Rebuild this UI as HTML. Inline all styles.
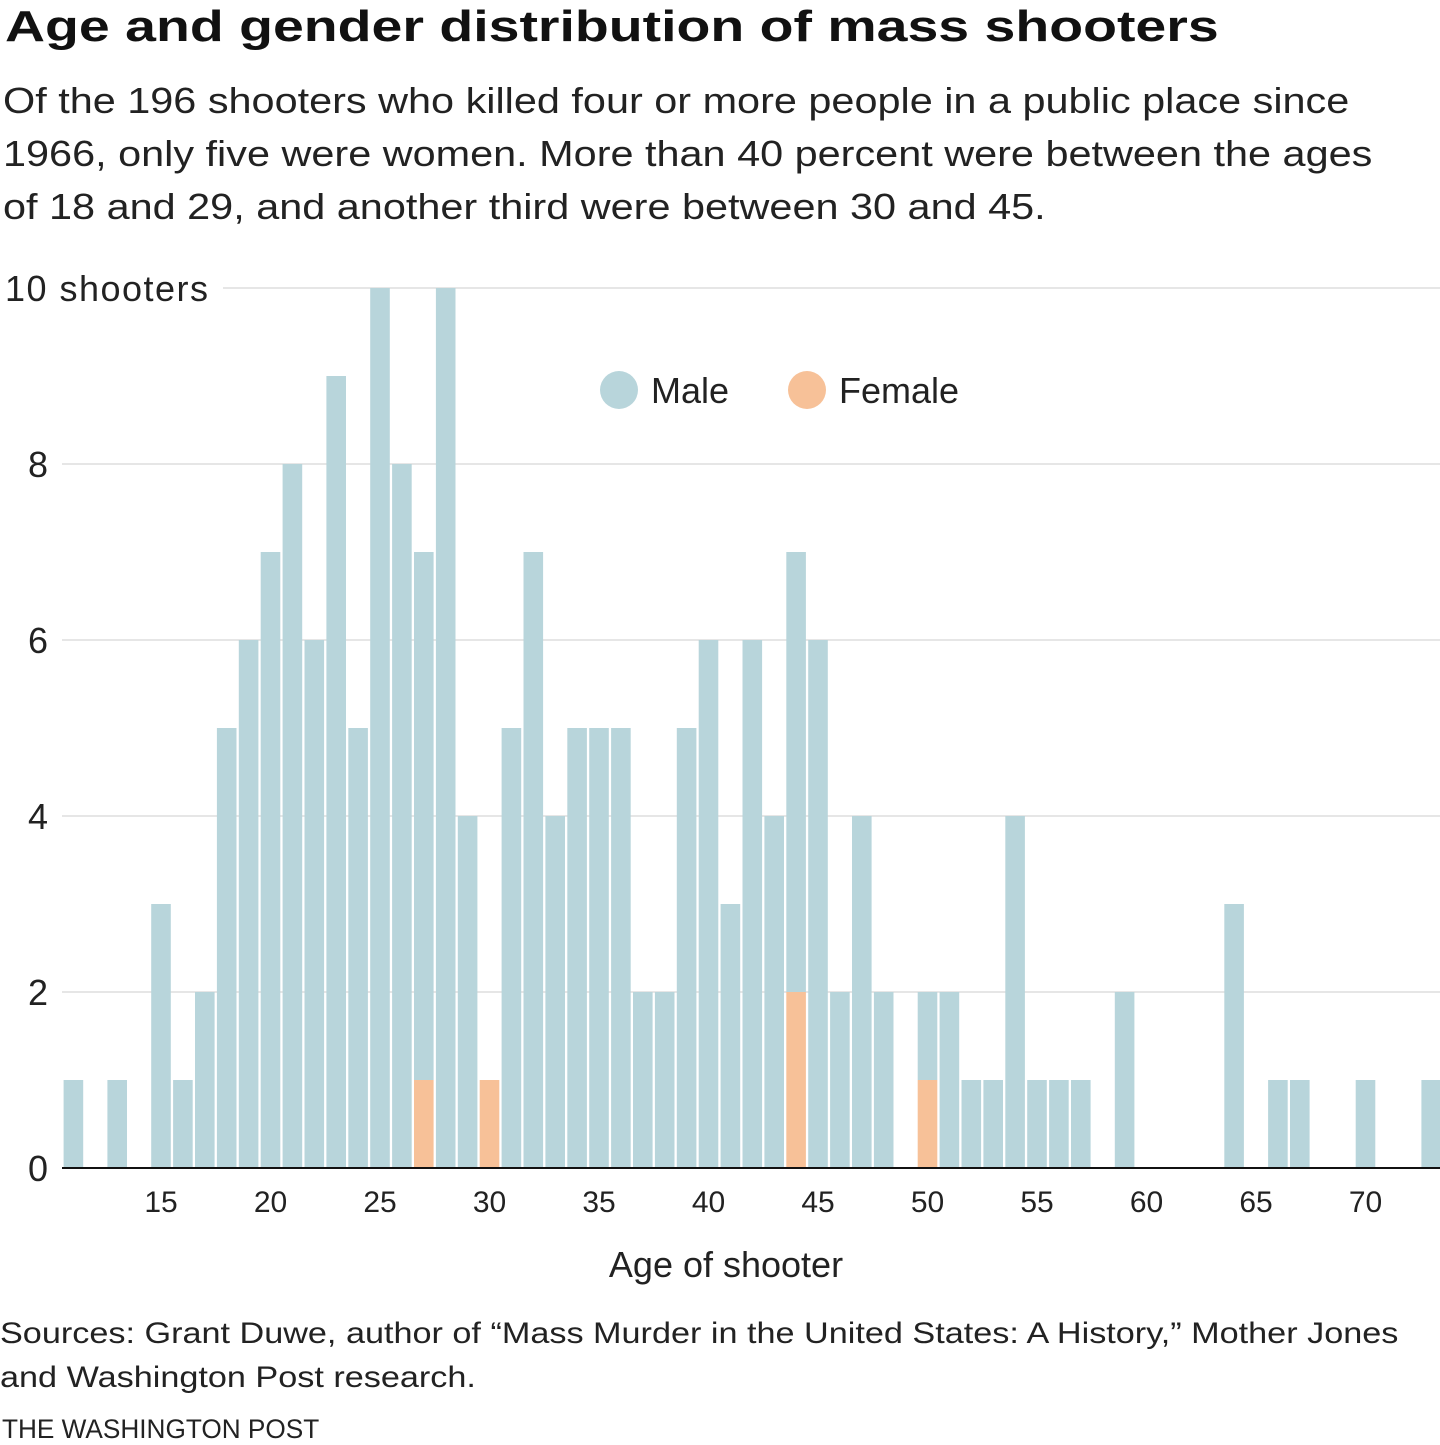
<!DOCTYPE html>
<html><head><meta charset="utf-8"><style>
body{margin:0;width:1440px;height:1445px;background:#fff;font-family:"Liberation Sans",sans-serif;overflow:hidden;position:relative}
.t{position:absolute;white-space:nowrap;color:#111;transform-origin:0 0}
</style></head><body>
<div class="t" style="left:5px;top:2px;font-size:44px;font-weight:bold;transform:scaleX(1.26)">Age and gender distribution of mass shooters</div>
<div class="t" style="left:3px;top:74px;font-size:36px;line-height:53px;color:#222;transform:scaleX(1.15)">Of the 196 shooters who killed four or more people in a public place since<br>1966, only five were women. More than 40 percent were between the ages<br>of 18 and 29, and another third were between 30 and 45.</div>
<svg id="chart" width="1440" height="1300" style="position:absolute;left:0;top:0"></svg>
<div class="t" style="left:0;top:1312px;font-size:30px;line-height:44px;color:#222;transform:scaleX(1.14)">Sources: Grant Duwe, author of “Mass Murder in the United States: A History,” Mother Jones<br>and Washington Post research.</div>
<div class="t" style="left:2px;top:1414px;font-size:27px;color:#222;transform:scaleX(0.97)">THE WASHINGTON POST</div>
<script>
const ages=[11,12,13,14,15,16,17,18,19,20,21,22,23,24,25,26,27,28,29,30,31,32,33,34,35,36,37,38,39,40,41,42,43,44,45,46,47,48,49,50,51,52,53,54,55,56,57,58,59,60,61,62,63,64,65,66,67,68,69,70,71,72,73];
const male=[1,0,1,0,3,1,2,5,6,7,8,6,9,5,10,8,6,10,4,0,5,7,4,5,5,5,2,2,5,6,3,6,4,5,6,2,4,2,0,1,2,1,1,4,1,1,1,0,2,0,0,0,0,3,0,1,1,0,0,1,0,0,1];
const female=[0,0,0,0,0,0,0,0,0,0,0,0,0,0,0,0,1,0,0,1,0,0,0,0,0,0,0,0,0,0,0,0,0,2,0,0,0,0,0,1,0,0,0,0,0,0,0,0,0,0,0,0,0,0,0,0,0,0,0,0,0,0,0];
const yTicks=[0,2,4,6,8,10];
const xTicks=[15,20,25,30,35,40,45,50,55,60,65,70];
const NS="http://www.w3.org/2000/svg",svg=document.getElementById('chart');
const x=a=>161+(a-15)*21.9, y=v=>1168-v*88;
function mk(t,attrs){const e=document.createElementNS(NS,t);for(const k in attrs)e.setAttribute(k,attrs[k]);svg.appendChild(e);return e;}
yTicks.forEach(v=>{
  if(v>0){const g=mk('line',{x1:v===10?223:62,x2:1440,y1:y(v),y2:y(v),stroke:'#ccc','stroke-width':1});
  
  }
  const t=mk('text',{x:v===10?5:48,y:y(v)+13,'font-size':36,fill:'#222','text-anchor':v===10?'start':'end'});
  if(v===10)t.setAttribute('textLength','203');
  t.textContent=v===10?'10 shooters':String(v);
  
  
});
ages.forEach((a,i)=>{
  const tot=male[i]+female[i];
  if(male[i]>0){const r=mk('rect',{x:x(a)-9.8,y:y(tot),width:19.6,height:male[i]*88,fill:'#b8d5db'});
  
  }
  if(female[i]>0){const r=mk('rect',{x:x(a)-9.8,y:y(female[i]),width:19.6,height:female[i]*88,fill:'#f7c198'});
  
  }
});
const base=mk('line',{x1:62,x2:1440,y1:1168,y2:1168,stroke:'#111','stroke-width':2});


xTicks.forEach(a=>{const t=mk('text',{x:x(a),y:1212,'font-size':30,fill:'#222','text-anchor':'middle'});t.textContent=a;
  
  });
const xt=mk('text',{x:726,y:1277,'font-size':36,fill:'#222','text-anchor':'middle'});xt.textContent='Age of shooter';


[['Male','#b8d5db',619],['Female','#f7c198',807]].forEach(([n,c,cx])=>{
  const ci=mk('circle',{cx:cx,cy:390,r:19,fill:c});
  
  
  const t=mk('text',{x:cx+32,y:403,'font-size':36,fill:'#222'});t.textContent=n;
  
  
});
</script>
</body></html>
